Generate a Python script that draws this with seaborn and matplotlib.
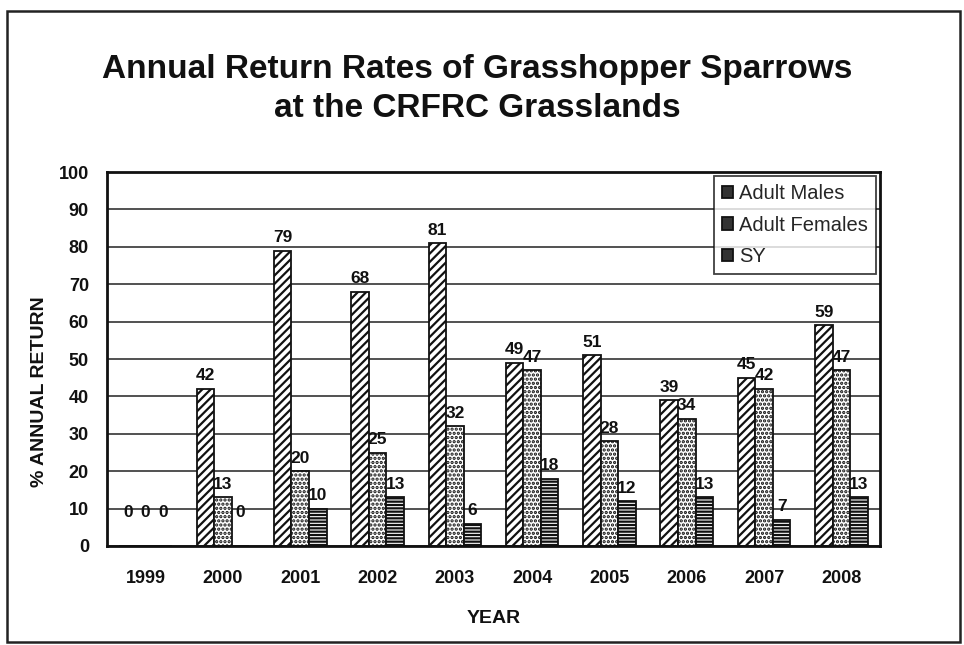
import matplotlib
matplotlib.use("Agg")
import matplotlib.pyplot as plt
import seaborn as sns
import pandas as pd
import numpy as np
from matplotlib.patches import Rectangle

years = ["1999", "2000", "2001", "2002", "2003", "2004", "2005", "2006", "2007", "2008"]
adult_males = [0, 42, 79, 68, 81, 49, 51, 39, 45, 59]
adult_females = [0, 13, 20, 25, 32, 47, 28, 34, 42, 47]
sy = [0, 0, 10, 13, 6, 18, 12, 13, 7, 13]
series_names = ["Adult Males", "Adult Females", "SY"]
y_ticks = [0, 10, 20, 30, 40, 50, 60, 70, 80, 90, 100]

rows = []
for name, vals in zip(series_names, [adult_males, adult_females, sy]):
    for yr, v in zip(years, vals):
        rows.append({"Year": yr, "Series": name, "Value": v})
df = pd.DataFrame(rows)

sns.set_theme(style="white")
plt.rcParams['font.family'] = ['Liberation Sans', 'DejaVu Sans']
plt.rcParams['hatch.linewidth'] = 1.6
plt.rcParams['hatch.color'] = '#111111'

fig = plt.figure(figsize=(9.64, 6.45), dpi=100)
ax = fig.add_axes([107/964, 1-546/645, (880-107)/964, (546-172)/645])

sns.barplot(data=df, x="Year", y="Value", hue="Series", order=years,
            hue_order=series_names, palette=["white", "white", "white"],
            edgecolor="#111111", linewidth=1.3, width=0.68, ax=ax,
            errorbar=None, saturation=1)

hatches = ["////", "....", "-----"]
for cont, h in zip(ax.containers, hatches):
    for p in cont:
        p.set_hatch(h)
    for p, v in zip(cont, cont.datavalues):
        off = 4 if v > 0 else 19
        ax.annotate(f"{int(v)}", (p.get_x() + p.get_width()/2, v),
                    xytext=(0, off), textcoords="offset points",
                    ha="center", va="bottom", fontsize=12.5, fontweight="bold",
                    color="#111111")

ax.set_ylim(0, 100)
ax.set_xlim(-0.5, 9.5)
ax.set_yticks(y_ticks)
ax.yaxis.grid(True, color="#222222", linewidth=1.1)
ax.set_axisbelow(True)
for s in ax.spines.values():
    s.set_color("#111111")
    s.set_linewidth(2)

ax.tick_params(axis="y", length=0, pad=13, labelsize=13, labelcolor="#111111")
ax.tick_params(axis="x", which="major", length=0, pad=17, labelsize=13, labelcolor="#111111")
ax.set_xticks(np.arange(-0.5, 10, 1), minor=True)
ax.tick_params(axis="x", which="minor", length=6, width=1.5, direction="out", color="#111111")
for lab in ax.get_xticklabels() + ax.get_yticklabels():
    lab.set_fontweight("bold")

ax.set_xlabel("YEAR", fontsize=14, fontweight="bold", labelpad=17, color="#111111")
ax.set_ylabel("")
fig.text(40/964, 1-392/645, "% ANNUAL RETURN", rotation=90, ha="center", va="center",
         fontsize=14, fontweight="bold", color="#111111")

leg = ax.legend(title=None, loc="upper right", fontsize=14.5, frameon=True,
                fancybox=False, edgecolor="#111111", handlelength=0.55,
                handleheight=0.55, handletextpad=0.3, borderpad=0.4,
                labelspacing=0.62, borderaxespad=0,
                bbox_to_anchor=(0.995, 0.989))
leg.get_frame().set_linewidth(1.3)
for hnd in leg.legend_handles:
    hnd.set_facecolor("#333333")

fig.text(477/964, 1-89/645, "Annual Return Rates of Grasshopper Sparrows\nat the CRFRC Grasslands",
         ha="center", va="center", fontsize=24, fontweight="bold", color="#111111",
         linespacing=1.3)

fig.patches.append(Rectangle((7/964, 1-642/645), (960-7)/964, (642-11)/645,
                             transform=fig.transFigure, fill=False,
                             edgecolor="#222222", linewidth=1.8))

fig.savefig("out.png", dpi=100)
